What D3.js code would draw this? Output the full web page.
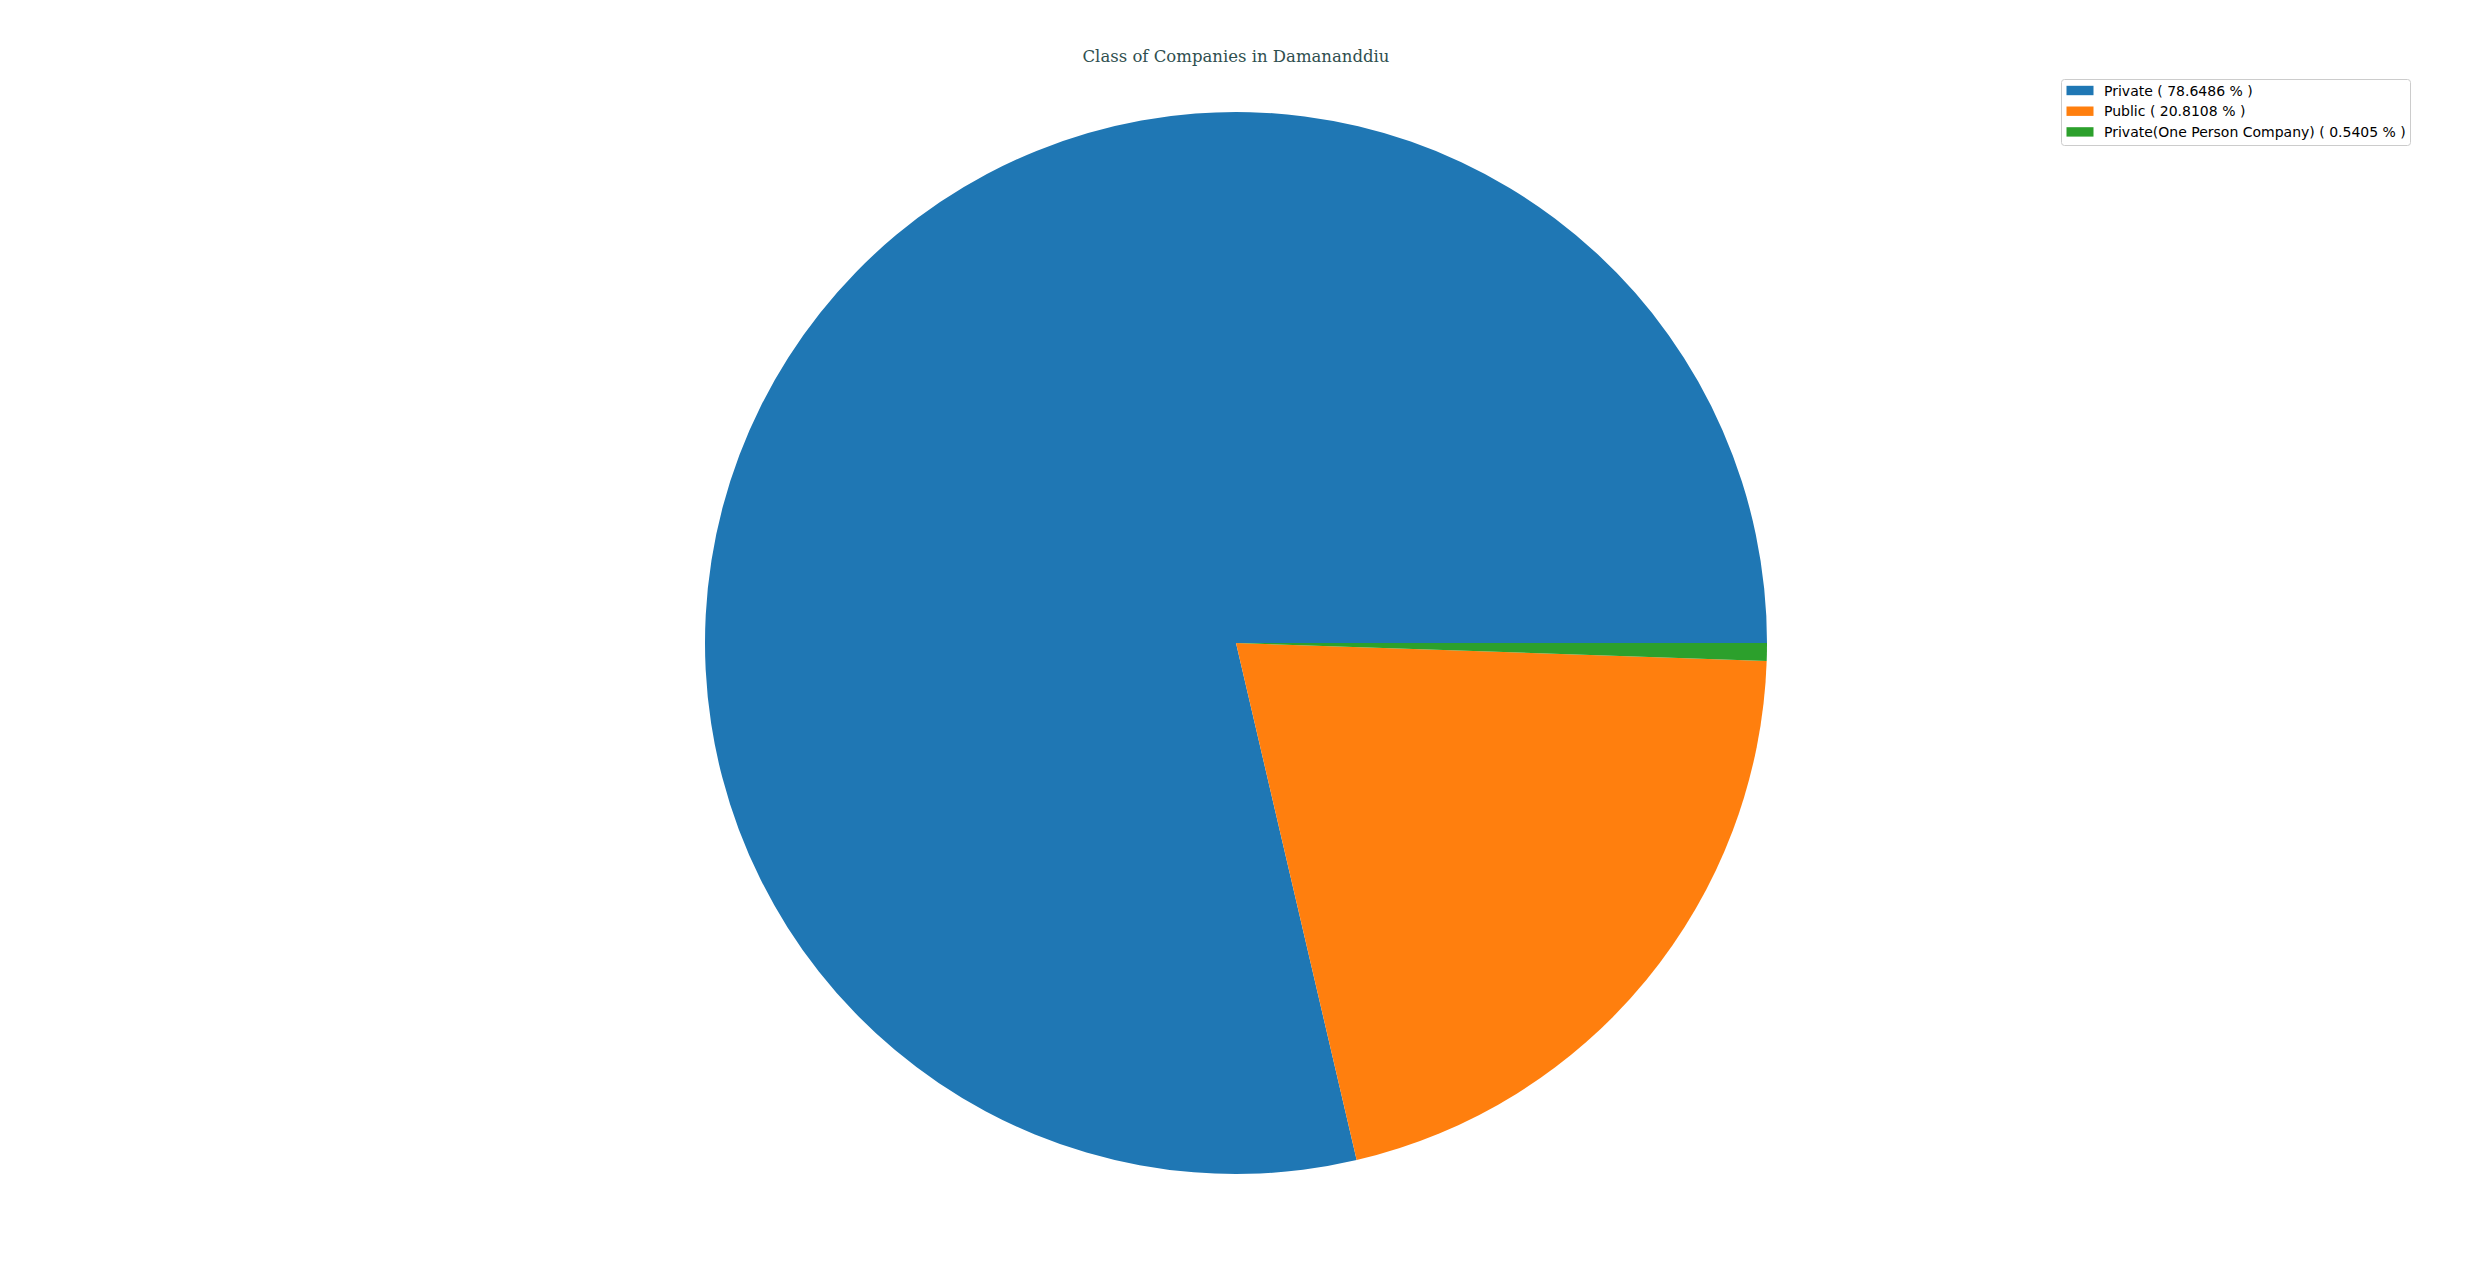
<!DOCTYPE html>
<html>
<head>
<meta charset="utf-8">
<script src="https://cdn.jsdelivr.net/npm/d3@7"></script>
<style>
  body { margin: 0; background: #fff; }
  svg { display: block; }
</style>
</head>
<body>
<svg id="chart" width="2470" height="1270"></svg>
<script>
// Data
var categories = ['Private', 'Public', 'Private(One Person Company)'];
var shares = [78.6486, 20.8108, 0.5405];
var colours = ['#1f77b4', '#ff7f0e', '#2ca02c'];

var svg = d3.select('#chart');

// pie geometry
var centre = {x: 1236, y: 643};
var radius = 531;

var data = categories.map(function(c, i) {
    return {name: c, value: shares[i]};
});

// matplotlib starts at 3 o'clock and runs counter-clockwise
var pie = d3.pie()
    .sort(null)
    .value(function(d) { return d.value; })
    .startAngle(Math.PI / 2)
    .endAngle(Math.PI / 2 - 2 * Math.PI);

var arc = d3.arc()
    .innerRadius(0)
    .outerRadius(radius);

var colour = d3.scaleOrdinal()
    .domain(categories)
    .range(colours);

var pieG = svg.append('g')
    .attr('transform', 'translate(' + [centre.x, centre.y] + ')');

pieG.selectAll('.slice')
    .data(pie(data))
    .enter()
    .append('path')
    .attr('class', 'slice')
    .attr('d', arc)
    .attr('fill', function(d) { return colour(d.data.name); });

// title
svg.append('text')
    .attr('x', centre.x)
    .attr('y', 62)
    .attr('text-anchor', 'middle')
    .attr('font-family', 'DejaVu Serif, serif')
    .attr('font-size', 16.5)
    .attr('fill', '#2f4f4f')
    .text('Class of Companies in Damananddiu');

// legend
var legend = {x: 2061, y: 79, w: 349, h: 66, row: 20.7};
var legendG = svg.append('g')
    .attr('transform', 'translate(' + [legend.x, legend.y] + ')');

legendG.append('rect')
    .attr('x', 0.5)
    .attr('y', 0.5)
    .attr('width', legend.w)
    .attr('height', legend.h)
    .attr('rx', 3)
    .attr('fill', 'rgba(255,255,255,0.8)')
    .attr('stroke', '#cccccc')
    .attr('stroke-width', 1);

var items = legendG.selectAll('.item')
    .data(data)
    .enter()
    .append('g')
    .attr('class', 'item')
    .attr('transform', function(d, i) {
        return 'translate(' + [0, 11.5 + i * legend.row] + ')';
    });

items.append('rect')
    .attr('x', 5.5)
    .attr('y', -4.7)
    .attr('width', 27)
    .attr('height', 9.4)
    .attr('fill', function(d) { return colour(d.name); });

items.append('text')
    .attr('x', 43)
    .attr('y', 5)
    .attr('font-family', 'DejaVu Sans, sans-serif')
    .attr('font-size', 14)
    .attr('fill', '#000')
    .text(function(d) { return d.name + ' ( ' + d.value + ' % )'; });
</script>
</body>
</html>
